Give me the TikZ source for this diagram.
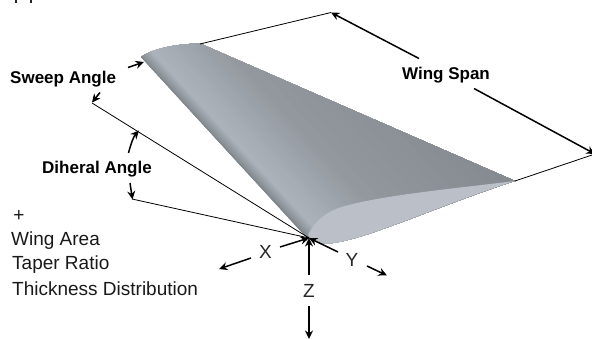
\documentclass[tikz,border=0pt]{standalone}
\usepackage{fontspec}
\setmainfont{Liberation Sans}
\usetikzlibrary{arrows.meta}
\definecolor{lowerface}{HTML}{BBC0C8}
\tikzset{
  thinline/.style={draw=black,line width=0.8pt},
  arrowline/.style={draw=black,line width=1.5pt,-{Stealth[length=8.5pt,width=8pt]}},
  plain/.style={font=\fontsize{19}{21}\selectfont,inner sep=0pt,text=black!90},
  heading/.style={font=\fontsize{17}{19}\selectfont\bfseries,inner sep=0pt,text=black},
  axis/.style={font=\fontsize{19}{21}\selectfont,inner sep=0pt,text=black!85}
}
% grey level of the wing by distance d from the leading edge
\newcommand{\wingstrip}[4]{%
  \definecolor{stripc}{RGB}{#2,#3,#4}%
  \pgfmathsetmacro{\ax}{305+0.735*#1-0.678*500}%
  \pgfmathsetmacro{\ay}{236-0.678*#1-0.735*500}%
  \pgfmathsetmacro{\bx}{305+0.735*#1+0.678*500}%
  \pgfmathsetmacro{\by}{236-0.678*#1+0.735*500}%
  \pgfmathsetmacro{\cx}{305+0.735*400+0.678*500}%
  \pgfmathsetmacro{\cy}{236-0.678*400+0.735*500}%
  \pgfmathsetmacro{\dx}{305+0.735*400-0.678*500}%
  \pgfmathsetmacro{\dy}{236-0.678*400-0.735*500}%
  \fill[stripc] (\ax,\ay) -- (\bx,\by) -- (\cx,\cy) -- (\dx,\dy) -- cycle;}
\newcommand{\wingramp}[8]{%
  \foreach \k in {0,...,11}{%
    \pgfmathsetmacro{\dd}{#1+(#2-#1)*\k/12}%
    \pgfmathtruncatemacro{\rr}{#3+(#6-#3)*\k/12}%
    \pgfmathtruncatemacro{\gg}{#4+(#7-#4)*\k/12}%
    \pgfmathtruncatemacro{\bb}{#5+(#8-#5)*\k/12}%
    \wingstrip{\dd}{\rr}{\gg}{\bb}}}
\begin{document}
\begin{tikzpicture}[x=1pt,y=-1pt]
\useasboundingbox (0,0) rectangle (592,339);
\clip (0,0) rectangle (592,339);
% wing upper surface
\begin{scope}
  \clip (141,57) .. controls (152,49) and (175,44) .. (200,43.5)
     -- (515,181)
     .. controls (440,205) and (370,238) .. (333,243)
     .. controls (322,245) and (314,242) .. (305,236) -- cycle;
  \wingramp{0}{3}{125}{131}{137}{140}{147}{153}
  \wingramp{3}{12}{140}{147}{153}{172}{179}{187}
  \wingramp{12}{26}{172}{179}{187}{167}{173}{181}
  \wingramp{26}{70}{167}{173}{181}{146}{152}{158}
  \wingramp{70}{190}{146}{152}{158}{132}{138}{143}
\end{scope}
% root aerofoil face
\fill[lowerface] (308,235) .. controls (314,222) and (326,211) .. (345,206)
   .. controls (385,195) and (450,189) .. (515,181)
   .. controls (440,205) and (370,238) .. (333,243)
   .. controls (322,245) and (314,242) .. (308,235) -- cycle;
% key points
\coordinate (tipLE) at (142,58);
\coordinate (tipTE) at (200,44);
\coordinate (rootTE) at (515,181);
\coordinate (origin) at (309,238);
\coordinate (spanA) at (331,12.5);
\coordinate (spanB) at (595,154);
\coordinate (sweepEnd) at (92,103);
\coordinate (dihEnd) at (132,199);
\coordinate (dihMid) at (139,130.5);
% reference lines
\draw[thinline] (tipTE) -- (spanA);
\draw[thinline] (rootTE) -- (spanB);
\draw[thinline] (sweepEnd) -- (origin);
\draw[thinline] (dihEnd) -- (origin);
% labels
\node[heading,anchor=base west] (sweep) at (10,84) {Sweep Angle};
\node[heading,anchor=base west] (dih) at (42,173.5) {Diheral Angle};
\node[heading,anchor=base] (span) at (446,80) {Wing Span};
\node[plain] (plus) at (19,216) {+};
\node[plain,anchor=base west] (area) at (11,246) {Wing Area};
\node[plain,anchor=base west] (taper) at (12,270) {Taper Ratio};
\node[plain,anchor=base west] (thick) at (12,295) {Thickness Distribution};
\node[axis,anchor=base] (xl) at (265.5,259) {X};
\node[axis,anchor=base] (yl) at (352,266.5) {Y};
\node[axis,anchor=base] (zl) at (309,297.5) {Z};
% annotation arrows
\coordinate (s1) at (128,67.5);
\coordinate (s2) at (144,62);
\coordinate (s3) at (100,92.5);
\coordinate (s4) at (92,102.5);
\coordinate (d1) at (128.5,153);
\coordinate (d3) at (130,183);
\coordinate (d4) at (132.5,199.5);
\draw[arrowline] (s1) -- (s2);
\draw[arrowline] (s3) -- (s4);
\draw[arrowline] (d1) .. controls (131,143) and (134,136) .. (dihMid);
\draw[arrowline] (d3) -- (d4);
\coordinate (w1) at (419,58.5);
\coordinate (w2) at (474,88.5);
\draw[arrowline] (w1) -- (spanA);
\draw[arrowline] (w2) -- (spanB);
% axes
\coordinate (x1) at (280,247);
\coordinate (x2) at (251,258);
\coordinate (x3) at (219,269);
\coordinate (y1) at (338,252);
\coordinate (y2) at (367,266);
\coordinate (y3) at (387,275.5);
\coordinate (z1) at (309,275);
\coordinate (z2) at (309,306);
\coordinate (z3) at (309,339);
\draw[arrowline] (x1) -- (origin);
\draw[arrowline] (x2) -- (x3);
\draw[arrowline] (y1) -- (origin);
\draw[arrowline] (y2) -- (y3);
\draw[arrowline] (z1) -- (origin);
\draw[arrowline] (z2) -- (z3);
% clipped stems of text cut by the top edge
\fill[black!85] (14.8,0) rectangle (17,3.5);
\fill[black!85] (30,0) rectangle (32.2,3.5);
\end{tikzpicture}
\end{document}
